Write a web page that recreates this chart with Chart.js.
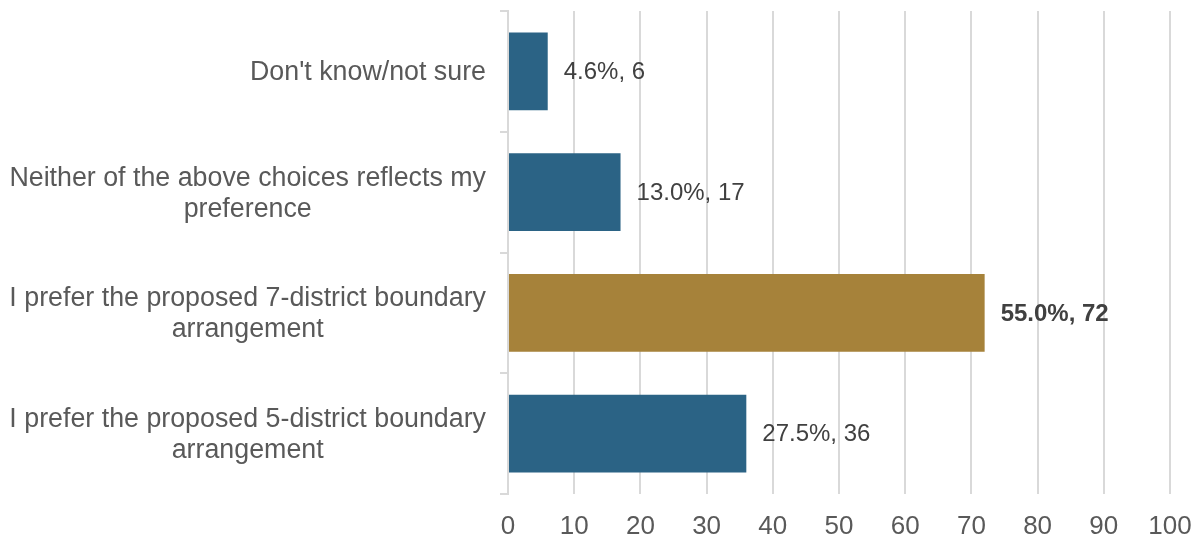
<!DOCTYPE html>
<html>
<head>
<meta charset="utf-8">
<script src="https://cdn.jsdelivr.net/npm/chart.js@4/dist/chart.umd.min.js"></script>
<style>
  html, body { margin: 0; padding: 0; background: #fff; }
  #wrap { width: 1198px; height: 537px; }
</style>
</head>
<body>
<div id="wrap"><canvas id="prefChart"></canvas></div>
<script>
// Survey answers, top to bottom as shown
const categories = [
  ["Don't know/not sure"],
  ["Neither of the above choices reflects my", "preference"],
  ["I prefer the proposed 7-district boundary", "arrangement"],
  ["I prefer the proposed 5-district boundary", "arrangement"]
];
const counts = [6, 17, 72, 36];
const percents = [4.6, 13.0, 55.0, 27.5];
const xTicks = [0, 10, 20, 30, 40, 50, 60, 70, 80, 90, 100];
const highlight = 2; // the winning answer

const blue = '#2b6385';
const gold = '#a6823a';
const textGrey = '#595959';
const gridGrey = '#d9d9d9';
const fontFamily = '"Liberation Sans", Arial, sans-serif';

/* y labels: lines centred on each other, block right-aligned to the axis */
const categoryLabels = {
  id: 'categoryLabels',
  afterDraw(chart) {
    const c = chart.ctx;
    const y = chart.scales.y;
    const right = chart.chartArea.left - 22;
    c.save();
    c.font = '26.8px ' + fontFamily;
    c.fillStyle = textGrey;
    c.textAlign = 'center';
    c.textBaseline = 'middle';
    const lh = 31;
    categories.forEach((lines, i) => {
      const w = Math.max(...lines.map(l => c.measureText(l).width));
      const cx = right - w / 2;
      const cy = y.getPixelForValue(i) + 1.5;
      lines.forEach((l, j) => {
        c.fillText(l, cx, cy + (j - (lines.length - 1) / 2) * lh);
      });
    });
    c.restore();
  }
};

/* "pct%, n" next to each bar */
const valueLabels = {
  id: 'valueLabels',
  afterDatasetsDraw(chart) {
    const c = chart.ctx;
    const meta = chart.getDatasetMeta(0);
    c.save();
    c.textAlign = 'left';
    c.textBaseline = 'middle';
    meta.data.forEach((bar, i) => {
      c.font = (i === highlight ? 'bold ' : '') + '24px ' + fontFamily;
      c.fillStyle = '#404040';
      c.fillText(percents[i].toFixed(1) + '%, ' + counts[i], bar.x + 16, bar.y + 1);
    });
    c.restore();
  }
};

const ctx = document.getElementById('prefChart').getContext('2d');
const prefChart = new Chart(ctx, {
  type: 'bar',
  data: {
    labels: categories,
    datasets: [{
      data: counts,
      backgroundColor: counts.map((v, i) => i === highlight ? gold : blue),
      borderWidth: 0,
      barPercentage: 0.645,
      categoryPercentage: 1
    }]
  },
  options: {
    indexAxis: 'y',
    responsive: true,
    maintainAspectRatio: false,
    animation: false,
    layout: {
      padding: { top: 11, right: 28, bottom: 0, left: 0 }
    },
    plugins: {
      legend: { display: false },
      tooltip: { enabled: false }
    },
    scales: {
      x: {
        min: 0,
        max: 100,
        afterBuildTicks: (scale) => { scale.ticks = xTicks.map(v => ({ value: v })); },
        afterFit: (scale) => {
          scale.height = 43;
          scale.paddingLeft = 0;
          scale.paddingRight = 0;
        },
        grid: {
          color: gridGrey,
          lineWidth: 2,
          drawTicks: false
        },
        border: { display: false },
        ticks: {
          padding: 17,
          maxRotation: 0,
          color: textGrey,
          font: { family: fontFamily, size: 26 }
        }
      },
      y: {
        afterFit: (scale) => { scale.width = 508; },
        grid: {
          offset: true,
          drawOnChartArea: false,
          drawTicks: true,
          tickLength: 8,
          color: gridGrey,
          lineWidth: 2
        },
        border: { color: gridGrey, width: 2 },
        ticks: { display: false }
      }
    }
  },
  plugins: [categoryLabels, valueLabels]
});
</script>
</body>
</html>
